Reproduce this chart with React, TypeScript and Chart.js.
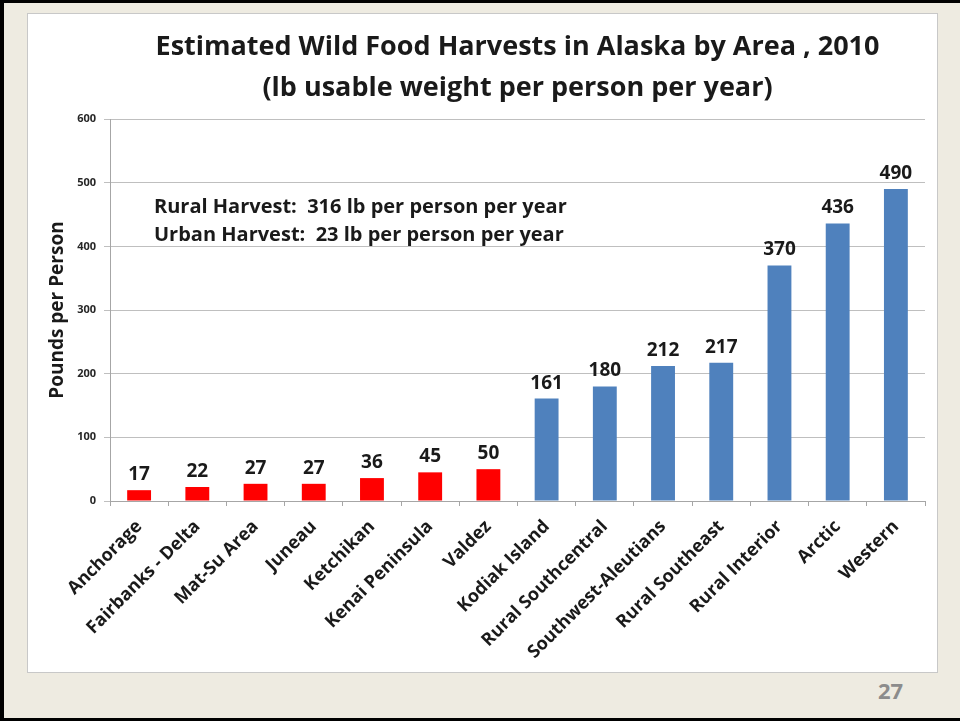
import React, { useEffect, useRef } from "react";
import { Chart, registerables } from "chart.js";

Chart.register(...registerables);

const categories = [
  "Anchorage",
  "Fairbanks - Delta",
  "Mat-Su Area",
  "Juneau",
  "Ketchikan",
  "Kenai Peninsula",
  "Valdez",
  "Kodiak Island",
  "Rural Southcentral",
  "Southwest-Aleutians",
  "Rural Southeast",
  "Rural Interior",
  "Arctic",
  "Western",
];
const harvestValues = [17, 22, 27, 27, 36, 45, 50, 161, 180, 212, 217, 370, 436, 490];
const areaGroups = ["urban", "urban", "urban", "urban", "urban", "urban", "urban", "rural", "rural", "rural", "rural", "rural", "rural", "rural"];
const titleLines = ["Estimated Wild Food Harvests in Alaska by Area , 2010", "(lb usable weight per person per year)"];
const noteLines = ["Rural Harvest:  316 lb per person per year", "Urban Harvest:  23 lb per person per year"];
const yAxisTitle = "Pounds per Person";
const pageNumber = "27";

const FONT = "'Open Sans', Lato, sans-serif";
const groupColor: Record<string, string> = { urban: "#FF0000", rural: "#4F81BD" };

const labelPlugin = {
  id: "valueLabels",
  afterDatasetsDraw(chart: any) {
    const ctx = chart.ctx;
    const meta = chart.getDatasetMeta(0);
    ctx.save();
    ctx.font = `bold 19px ${FONT}`;
    ctx.fillStyle = "#1a1a1a";
    ctx.textAlign = "center";
    ctx.textBaseline = "alphabetic";
    meta.data.forEach((bar: any, i: number) => {
      ctx.fillText(String(chart.data.datasets[0].data[i]), bar.x, bar.y - 10);
    });
    // notes
    ctx.font = `bold 20px ${FONT}`;
    ctx.textAlign = "left";
    const left = chart.chartArea.left + 44;
    ctx.fillText(noteLines[0], left, chart.chartArea.top + 94);
    ctx.fillText(noteLines[1], left, chart.chartArea.top + 122);
    ctx.restore();
  },
};

export default function App() {
  const ref = useRef<HTMLCanvasElement | null>(null);
  useEffect(() => {
    if (!ref.current) return;
    const chart = new Chart(ref.current, {
      type: "bar",
      data: {
        labels: categories,
        datasets: [
          {
            data: harvestValues,
            backgroundColor: areaGroups.map((g) => groupColor[g]),
            barPercentage: 1,
            categoryPercentage: 0.41,
          },
        ],
      },
      options: {
        animation: false,
        responsive: false,
        maintainAspectRatio: false,
        layout: { padding: { left: 0, right: 12, top: 0, bottom: 0 } },
        plugins: {
          legend: { display: false },
          tooltip: { enabled: false },
          title: {
            display: true,
            text: titleLines,
            fullSize: false,
            color: "#1a1a1a",
            font: { family: FONT, size: 27, weight: "bold", lineHeight: 1.52 },
            padding: { top: 13, bottom: 10 },
          },
        },
        scales: {
          x: {
            offset: true,
            grid: { display: true, drawOnChartArea: false, drawTicks: true, tickLength: 5, offset: true, color: "#A6A6A6" },
            border: { color: "#A6A6A6" },
            ticks: {
              minRotation: 45,
              maxRotation: 45,
              autoSkip: false,
              padding: 10,
              color: "#1a1a1a",
              font: { family: FONT, size: 18, weight: "bold" },
            },
            afterFit(scale: any) {
              scale.height = 171;
            },
          },
          y: {
            min: 0,
            max: 600,
            ticks: {
              stepSize: 100,
              padding: 8,
              color: "#262626",
              font: { family: FONT, size: 11, weight: "bold" },
            },
            grid: { color: "#BFBFBF", tickLength: 6, drawTicks: true },
            border: { color: "#A6A6A6" },
            title: {
              display: true,
              text: yAxisTitle,
              color: "#1a1a1a",
              font: { family: FONT, size: 19, weight: "bold" },
              padding: { top: 18, bottom: 0 },
            },
            afterFit(scale: any) {
              scale.width = 82;
            },
          },
        },
      },
      plugins: [labelPlugin],
    });
    return () => chart.destroy();
  }, []);

  return (
    <div
      style={{
        position: "absolute",
        left: 0,
        top: 0,
        width: 960,
        height: 721,
        background: "#EEEBE1",
        boxSizing: "border-box",
        borderTop: "3px solid #000",
        borderLeft: "4px solid #000",
        borderBottom: "3px solid #000",
        overflow: "hidden",
      }}
    >
      <div
        style={{
          position: "absolute",
          left: 23,
          top: 10,
          width: 911,
          height: 660,
          boxSizing: "border-box",
          background: "#fff",
          border: "1px solid #C8C8C8",
        }}
      >
        <canvas ref={ref} width={909} height={658} style={{ display: "block" }} />
      </div>
      <div
        style={{
          position: "absolute",
          left: 874,
          top: 673,
          fontFamily: FONT,
          fontWeight: "bold",
          fontSize: 22,
          color: "#8C8C8C",
          lineHeight: "28px",
        }}
      >
        {pageNumber}
      </div>
    </div>
  );
}
